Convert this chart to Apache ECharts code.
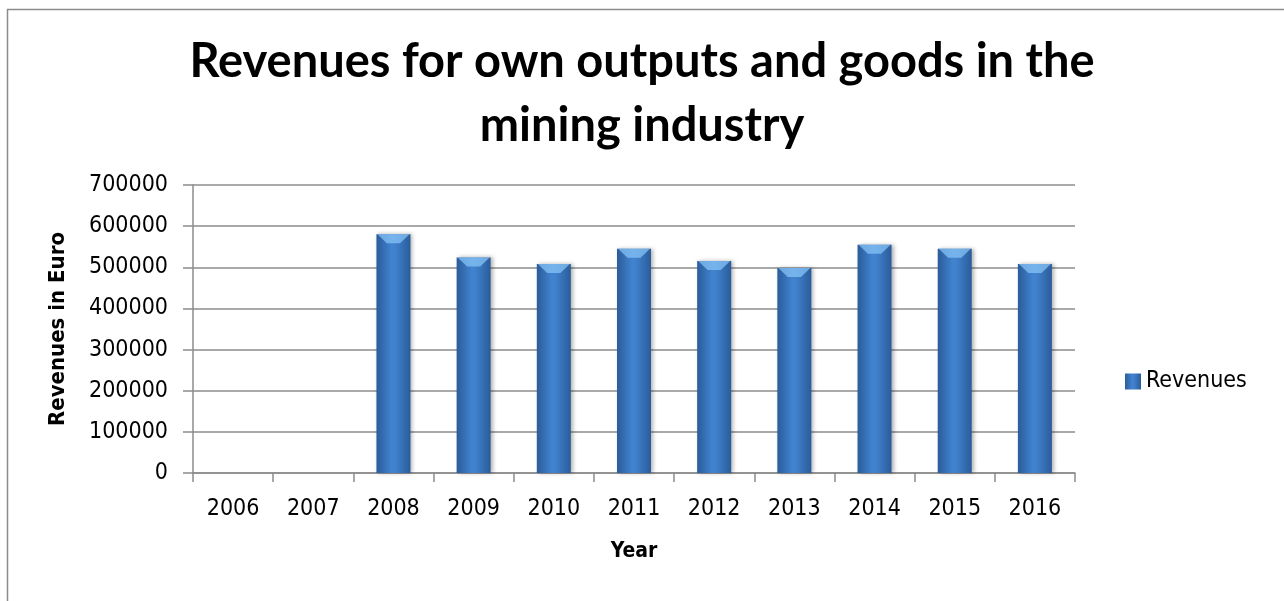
<!DOCTYPE html>
<html>
<head>
<meta charset="utf-8">
<script src="https://cdn.jsdelivr.net/npm/echarts@6/dist/echarts.min.js"></script>
<style>
html,body{margin:0;padding:0;background:#fff;}
#chart{width:1284px;height:601px;}
</style>
</head>
<body>
<div id="chart"></div>
<script>
const years = ['2006','2007','2008','2009','2010','2011','2012','2013','2014','2015','2016'];
const revenues = [null, null, 580000, 524000, 508000, 545000, 515000, 498000, 555000, 545000, 508000];
const yTicks = { min: 0, max: 700000, interval: 100000 };
const titleText = 'Revenues for own outputs and goods in the\nmining industry';
const seriesName = 'Revenues';
const yName = 'Revenues in Euro';
const xName = 'Year';

const labelFont = "'DejaVu Sans Condensed', 'DejaVu Sans', sans-serif";
const chart = echarts.init(document.getElementById('chart'));
const barGrad = new echarts.graphic.LinearGradient(0, 0, 1, 0, [
  { offset: 0, color: '#2a5c9a' },
  { offset: 0.45, color: '#4283d0' },
  { offset: 0.55, color: '#4081cd' },
  { offset: 1, color: '#2a5c9a' }
]);
chart.setOption({
  animation: false,
  backgroundColor: '#fff',
  graphic: [{
    type: 'rect', left: 5, top: 7, shape: { width: 1400, height: 700 },
    style: { fill: 'none', stroke: '#8c8c8c', lineWidth: 1.5 }, z: -1
  }],
  title: {
    text: titleText,
    left: 'center',
    top: 25,
    textStyle: { fontFamily: 'Lato', fontWeight: 'bold', fontSize: 47, lineHeight: 64, color: '#000' }
  },
  legend: {
    data: [seriesName],
    orient: 'vertical',
    left: 1120,
    top: 365,
    itemWidth: 16, itemHeight: 16, itemGap: 7,
    icon: 'rect',
    textStyle: { fontFamily: labelFont, fontSize: 23, color: '#000' }
  },
  grid: { left: 193, right: 209, top: 185, bottom: 128, containLabel: false },
  xAxis: {
    type: 'category',
    data: years,
    name: xName,
    nameLocation: 'middle',
    nameGap: 68,
    nameTextStyle: { fontFamily: labelFont, fontWeight: 'bold', fontSize: 21, color: '#000' },
    axisLine: { lineStyle: { color: '#8c8c8c', width: 1.5 } },
    axisTick: { show: true, alignWithLabel: false, length: 9, lineStyle: { color: '#8c8c8c', width: 1.5 } },
    axisLabel: { fontFamily: labelFont, fontSize: 23, color: '#000', margin: 25, interval: 0 }
  },
  yAxis: {
    type: 'value',
    min: yTicks.min, max: yTicks.max, interval: yTicks.interval,
    name: yName,
    nameLocation: 'middle',
    nameGap: 124,
    nameRotate: 90,
    nameTextStyle: { fontFamily: labelFont, fontWeight: 'bold', fontSize: 22, color: '#000' },
    axisLine: { show: true, lineStyle: { color: '#8c8c8c', width: 1.5 } },
    axisTick: { show: true, length: 10, lineStyle: { color: '#8c8c8c', width: 1.5 } },
    axisLabel: { fontFamily: labelFont, fontSize: 23, color: '#000', margin: 25, formatter: function (v) { return String(v); } },
    splitLine: { lineStyle: { color: '#8c8c8c', width: 1.5 } }
  },
  series: [{
    name: seriesName,
    type: 'bar',
    data: revenues,
    barWidth: 34,
    itemStyle: {
      color: barGrad,
      shadowBlur: 4, shadowColor: 'rgba(0,0,0,0.3)', shadowOffsetX: 2, shadowOffsetY: 0
    }
  }, {
    name: 'cap',
    type: 'pictorialBar',
    data: revenues,
    symbol: 'path://M0,0 L34,0 L24,10 L10,10 Z',
    symbolSize: [32, 9],
    symbolPosition: 'end',
    symbolOffset: [0, 0],
    barGap: '-100%',
    z: 5,
    silent: true,
    itemStyle: { color: 'rgba(140,200,250,0.7)' }
  }]
});
</script>
</body>
</html>
